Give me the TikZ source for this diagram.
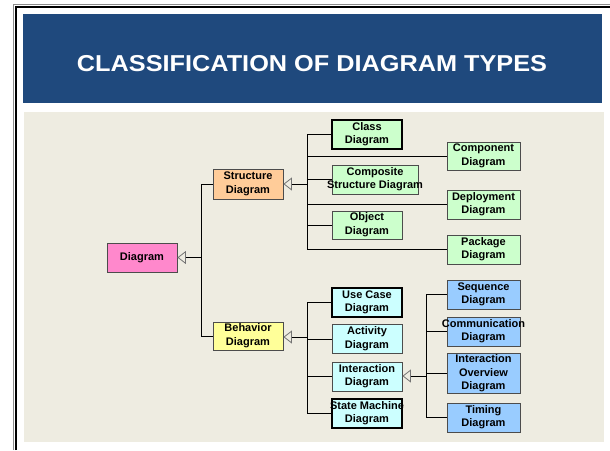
\documentclass[tikz,border=0pt]{standalone}
\usepackage{fontspec}
\usepackage{graphicx}
\setmainfont{Liberation Sans}
\usetikzlibrary{arrows.meta}

\definecolor{headblue}{HTML}{1F497D}
\definecolor{paper}{HTML}{EEECE1}
\definecolor{rootpink}{HTML}{FF88CC}
\definecolor{structorange}{HTML}{FFCC99}
\definecolor{behavyellow}{HTML}{FFFF99}
\definecolor{structgreen}{HTML}{CCFFCC}
\definecolor{behavcyan}{HTML}{CCFFFF}
\definecolor{interblue}{HTML}{99CCFF}

% centred label that may overflow its box
\newcommand\boxlabel[1]{\makebox[0pt]{\begin{tabular}{@{}c@{}}#1\end{tabular}}}

\begin{document}
\begin{tikzpicture}[x=1pt,y=-1pt,
  box/.style={draw=black!70, line width=0.8pt, inner sep=0pt,
    font=\bfseries\fontsize{11}{13.5}\selectfont, text=black},
  heavybox/.style={box, draw=black, line width=2.2pt},
  wire/.style={line width=0.8pt, draw=black},
  gen/.style={-{Triangle[open,length=8.5pt,width=13pt,color=black!55,line width=0.8pt]}}
]
\useasboundingbox (0,0) rectangle (610,450);
\fill[white] (0,0) rectangle (610,450);

% slide frame
\draw[black!45, line width=1pt] (13.5,450) -- (13.5,4.5) -- (610,4.5);
\draw[black, line width=2pt] (15.5,450) -- (15.5,6.5) -- (610,6.5);

% title bar and content panel
\fill[headblue] (23,14) rectangle (601.5,102.5);
\fill[paper] (24,112) rectangle (604,442);
\node[text=white, inner sep=0pt, font=\bfseries\fontsize{23}{28}\selectfont] (title) at (312,63.4)
  {\resizebox{470pt}{\height}{CLASSIFICATION OF DIAGRAM TYPES}};

% root and the two main branches
\node[box, fill=rootpink, minimum width=70pt, minimum height=29pt] (diag) at (142,257.5) {\boxlabel{Diagram}};
\node[box, fill=structorange, minimum width=70pt, minimum height=30pt] (struct) at (248,184) {\boxlabel{Structure\\Diagram}};
\node[box, fill=behavyellow, minimum width=70pt, minimum height=28pt] (behav) at (248,336) {\boxlabel{Behavior\\Diagram}};

% structure diagrams
\node[heavybox, fill=structgreen, minimum width=70pt, minimum height=29pt] (class) at (367,134.5) {\boxlabel{Class\\Diagram}};
\node[box, fill=structgreen, minimum width=73pt, minimum height=28pt] (comp) at (483.5,156) {\boxlabel{Component\\Diagram}};
\node[box, fill=structgreen, minimum width=86pt, minimum height=29pt] (composite) at (375,179.5) {\boxlabel{Composite\\Structure Diagram}};
\node[box, fill=structgreen, minimum width=73pt, minimum height=29pt] (deploy) at (483.5,204.5) {\boxlabel{Deployment\\Diagram}};
\node[box, fill=structgreen, minimum width=70pt, minimum height=28pt] (object) at (367,225) {\boxlabel{Object\\Diagram}};
\node[box, fill=structgreen, minimum width=73pt, minimum height=29pt] (package) at (483.5,249.5) {\boxlabel{Package\\Diagram}};

% behavior diagrams
\node[heavybox, fill=behavcyan, minimum width=70pt, minimum height=29pt] (usecase) at (367,302.5) {\boxlabel{Use Case\\Diagram}};
\node[box, fill=behavcyan, minimum width=70pt, minimum height=29pt] (activity) at (367,339) {\boxlabel{Activity\\Diagram}};
\node[box, fill=behavcyan, minimum width=70pt, minimum height=29pt] (interaction) at (367,376.5) {\boxlabel{Interaction\\Diagram}};
\node[heavybox, fill=behavcyan, minimum width=70pt, minimum height=29pt] (state) at (367,413.5) {\boxlabel{State Machine\\Diagram}};

% interaction diagrams
\node[box, fill=interblue, minimum width=73pt, minimum height=29pt] (seq) at (483.5,294.5) {\boxlabel{Sequence\\Diagram}};
\node[box, fill=interblue, minimum width=73pt, minimum height=29pt] (comm) at (483.5,331.5) {\boxlabel{Communication\\Diagram}};
\node[box, fill=interblue, minimum width=73pt, minimum height=39pt] (io) at (483.5,373.5) {\boxlabel{Interaction\\Overview\\Diagram}};
\node[box, fill=interblue, minimum width=73pt, minimum height=29pt] (timing) at (483.5,417.5) {\boxlabel{Timing\\Diagram}};

% generalisation trees
\coordinate (jroot) at (201,257.5);
\draw[wire] (struct.west) -| (jroot);
\draw[wire] (behav.west) -| (jroot);
\draw[wire, gen] (jroot) -- (jroot -| diag.east);

\coordinate (jstruct) at (307,184);
\foreach \n in {class,comp,composite,deploy,object,package}
  \draw[wire] (\n.west) -| (jstruct);
\draw[wire, gen] (jstruct) -- (jstruct -| struct.east);

\coordinate (jbehav) at (307,337);
\foreach \n in {usecase,activity,interaction,state}
  \draw[wire] (\n.west) -| (jbehav);
\draw[wire, gen] (jbehav) -- (jbehav -| behav.east);

\coordinate (jinter) at (426,376);
\foreach \n in {seq,comm,io,timing}
  \draw[wire] (\n.west) -| (jinter);
\draw[wire, gen] (jinter) -- (jinter -| interaction.east);
\end{tikzpicture}
\end{document}
